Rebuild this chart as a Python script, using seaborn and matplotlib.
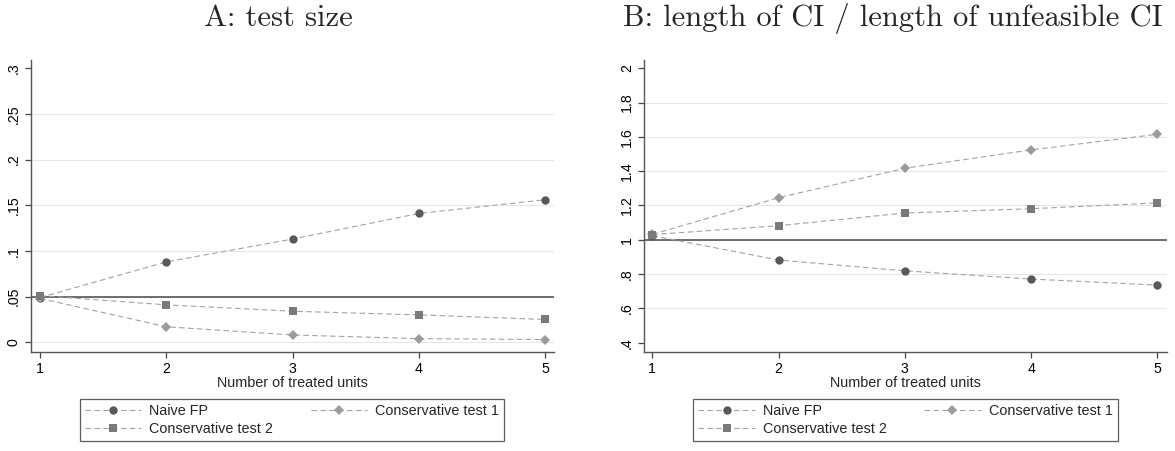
import matplotlib
matplotlib.use('Agg')
import matplotlib.pyplot as plt
import seaborn as sns
import numpy as np
import pandas as pd

# data
units = [1, 2, 3, 4, 5]

size_naive = [0.049, 0.088, 0.113, 0.141, 0.156]
size_cons1 = [0.048, 0.017, 0.008, 0.004, 0.003]
size_cons2 = [0.051, 0.041, 0.034, 0.030, 0.025]

len_naive = [1.024, 0.882, 0.819, 0.771, 0.736]
len_cons1 = [1.032, 1.245, 1.417, 1.524, 1.615]
len_cons2 = [1.030, 1.082, 1.156, 1.181, 1.215]

size_ref = 0.05
len_ref = 1.0

size_ticks = [0, 0.05, 0.1, 0.15, 0.2, 0.25, 0.3]
size_ticklabels = ['0', '.05', '.1', '.15', '.2', '.25', '.3']
len_ticks = [0.4, 0.6, 0.8, 1.0, 1.2, 1.4, 1.6, 1.8, 2.0]
len_ticklabels = ['.4', '.6', '.8', '1', '1.2', '1.4', '1.6', '1.8', '2']

series_names = ['Naive FP', 'Conservative test 1', 'Conservative test 2']
titles = ['A: test size', 'B: length of CI / length of unfeasible CI']
xlabel = 'Number of treated units'

sns.set_style('white')
plt.rcParams['font.family'] = ['Liberation Sans', 'DejaVu Sans']

W, H = 1175, 451
fig = plt.figure(figsize=(W / 100, H / 100), dpi=100)

def px_box(x0, x1, ytop, ybot):
    return [x0 / W, 1 - ybot / H, (x1 - x0) / W, (ybot - ytop) / H]

ax1 = fig.add_axes(px_box(30.7, 554, 60, 351.7))
ax2 = fig.add_axes(px_box(644, 1166.7, 60, 351.7))

styles = [
    dict(marker='o', mfc='#595959', ms=6.0),
    dict(marker='D', mfc='#9c9c9c', ms=5.6),
    dict(marker='s', mfc='#7a7a7a', ms=5.6),
]

panels = [
    (ax1, [size_naive, size_cons1, size_cons2], size_ref, size_ticks, size_ticklabels, (-0.0103, 0.309), (0.926, 5.071)),
    (ax2, [len_naive, len_cons1, len_cons2], len_ref, len_ticks, len_ticklabels, (0.3475, 2.048), (0.934, 5.074)),
]

for ax, series, ref, ticks, ticklabels, ylim, xlim in panels:
    ax.axhline(ref, color='#626262', lw=1.3, zorder=1)
    for name, vals, st in zip(series_names, series, styles):
        df = pd.DataFrame({'units': units, 'value': vals})
        sns.lineplot(data=df, x='units', y='value', ax=ax, color='#a3a3a3',
                     lw=0.8, linestyle=(0, (5, 3)), marker=st['marker'],
                     markerfacecolor=st['mfc'], markeredgecolor=st['mfc'],
                     markeredgewidth=0, ms=st['ms'], label=name, zorder=3)
    ax.set_xlim(*xlim)
    ax.set_ylim(*ylim)
    ax.set_xticks(units)
    ax.set_xticklabels([str(u) for u in units], fontsize=10.2)
    ax.set_yticks(ticks)
    ax.set_yticklabels(ticklabels, rotation=90, va='center', fontsize=10.2)
    ax.yaxis.grid(True, color='#e6e6e6', lw=0.8)
    gl = ax.get_ygridlines()
    gl[-1].set_visible(False)
    if ax is ax2:
        gl[0].set_visible(False)
    ax.set_axisbelow(True)
    ax.tick_params(axis='both', direction='out', length=4.2, width=0.9,
                   color='#444444', pad=3, labelcolor='black')
    ax.tick_params(axis='x', bottom=True)
    ax.tick_params(axis='y', left=True)
    for s in ['top', 'right']:
        ax.spines[s].set_visible(False)
    for s in ['left', 'bottom']:
        ax.spines[s].set_color('#555555')
        ax.spines[s].set_linewidth(1.0)
    ax.set_xlabel(xlabel, fontsize=10.4, labelpad=0)
    ax.set_ylabel('')
    ax.get_legend().remove()

# legends below each panel
for ax, lx in [(ax1, 80), (ax2, 693.3)]:
    handles, labels = ax.get_legend_handles_labels()
    order = [0, 2, 1]
    leg = ax.legend([handles[i] for i in order], [labels[i] for i in order],
                    ncol=2, mode='expand', loc='upper left',
                    bbox_to_anchor=(lx / W, 1 - 446.7 / H, 424.3 / W, 47.4 / H),
                    bbox_transform=fig.transFigure, borderaxespad=0,
                    fontsize=10.4, frameon=True, fancybox=False,
                    edgecolor='#333333', handlelength=3.9, handletextpad=0.55,
                    labelspacing=0.25, borderpad=0.35, numpoints=1)
    leg.get_frame().set_linewidth(0.9)

fig.text(278.3 / W, 1 - 26 / H, titles[0], family='cmr10', fontsize=22,
         ha='center', va='baseline')
fig.text(893 / W, 1 - 26 / H, titles[1], family='cmr10', fontsize=22,
         ha='center', va='baseline')

fig.savefig('out.png', dpi=100)
